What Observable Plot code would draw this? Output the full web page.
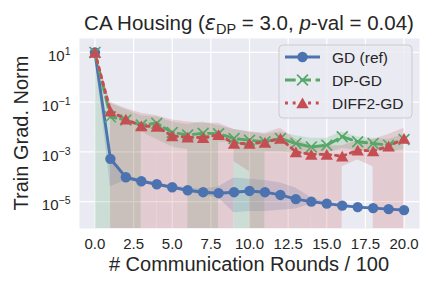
<!DOCTYPE html>
<html><head><meta charset="utf-8">
<script src="https://cdn.jsdelivr.net/npm/d3@7"></script>
<script src="https://cdn.jsdelivr.net/npm/@observablehq/plot@0.6"></script>
<style>body{margin:0;background:#fff}</style>
</head><body><div id="chart"></div>
<script>
// x positions (communication rounds / 100)
const rounds = [0,1,2,3,4,5,6,7,8,9,10,11,12,13,14,15,16,17,18,19,20];
const xTicks = [0,2.5,5,7.5,10,12.5,15,17.5,20];
const yTicks = [10, 0.1, 0.001, 0.00001];

// values read as log10 exponents; null = non-positive lower bound (clipped on log axis)
const gdMean  = [1.0,-3.28,-4.02,-4.18,-4.30,-4.42,-4.54,-4.62,-4.66,-4.62,-4.57,-4.62,-4.73,-4.90,-5.00,-5.08,-5.16,-5.22,-5.26,-5.30,-5.34];
const gdLow   = [0.95,-4.4,-4.15,-4.25,-4.35,-4.5,-4.6,-4.75,-4.85,-5.45,-5.4,-5.4,-5.35,-5.3,-5.1,-5.12,-5.2,-5.26,-5.3,-5.34,-5.38];
const gdHigh  = [1.05,-3.1,-3.95,-4.1,-4.25,-4.35,-4.45,-4.5,-4.4,-4.05,-4.1,-4.15,-4.25,-4.45,-4.85,-5.04,-5.12,-5.18,-5.22,-5.26,-5.3];

const dpMean  = [1.0,-1.59,-1.72,-1.92,-1.85,-2.22,-2.32,-2.25,-2.27,-2.46,-2.53,-2.59,-2.46,-2.66,-2.80,-2.73,-2.39,-2.59,-2.66,-2.73,-2.50];
const dpLow   = [0.9,null,null,-2.2,-2.5,-2.8,-2.9,null,-2.6,-2.65,null,-3.0,-3.0,-3.05,-3.1,-3.05,-2.85,-2.95,-2.95,-3.0,-2.9];
const dpHigh  = [1.1,-1.05,-1.3,-1.55,-1.6,-1.8,-1.9,-1.8,-1.95,-2.1,-2.2,-2.3,-2.2,-2.35,-2.45,-2.45,-2.2,-2.4,-2.45,-2.5,-2.3];

const dfMean  = [1.0,-1.36,-1.69,-1.96,-1.98,-2.36,-2.41,-2.43,-2.31,-2.66,-2.66,-2.62,-2.46,-3.0,-3.10,-3.10,-3.17,-2.93,-2.96,-2.77,-2.46];
const dfLow   = [0.9,-1.2,null,null,-2.6,null,null,null,null,-3.4,-3.8,null,null,null,-3.73,null,-3.6,-3.33,-3.6,null,null];
const dfHigh  = [1.1,-1.0,-1.25,-1.45,-1.55,-1.72,-1.8,-1.85,-1.85,-2.1,-2.2,-2.25,-2.05,-2.5,-2.75,-2.75,-2.75,-2.55,-2.5,-2.3,-2.05];

const names = ["GD (ref)","DP-GD","DIFF2-GD"];
const colors = ["#4C72B0","#55A868","#C44E52"];

const NONPOS = 1e-300;
const toVal = e => e === null ? NONPOS : Math.pow(10, e);
const build = (mean, lo, hi) => rounds.map((r,i) => ({round:r, y:toVal(mean[i]), y1:toVal(lo[i]), y2:toVal(hi[i])}));
const gd = build(gdMean, gdLow, gdHigh);
const dp = build(dpMean, dpLow, dpHigh);
const df = build(dfMean, dfLow, dfHigh);

const LW = 2.9;
const R = [5.2, 5.0, 4.6];
const DASH = [null, "10.7,4.6", "2.9,4.8"];
const band = (data, c) => Plot.areaY(data, {x:"round", y1:"y1", y2:"y2", fill:c, fillOpacity:0.2, clip:true});

const chart = Plot.plot({
  width: 432, height: 288,
  marginLeft: 79, marginRight: 13, marginTop: 38, marginBottom: 60,
  style: {fontFamily: "'Liberation Sans', Arial, sans-serif", fontSize: "15px", color: "#262626", background: "white", overflow: "visible"},
  x: {domain: [-1, 21]},
  y: {type: "log", domain: [Math.pow(10,-6.08), Math.pow(10,1.56)]},
  marks: [
    Plot.frame({fill: "#EAEAF2", stroke: null}),
    Plot.gridX(xTicks, {stroke: "white", strokeOpacity: 1, strokeWidth: 1.2}),
    Plot.gridY(yTicks, {stroke: "white", strokeOpacity: 1, strokeWidth: 1.2}),
    band(gd, colors[0]),
    band(dp, colors[1]),
    band(df, colors[2]),
    Plot.lineY(gd, {x:"round", y:"y", stroke: colors[0], strokeWidth: LW, clip: true}),
    Plot.dot(gd, {x:"round", y:"y", symbol:"circle", r:R[0], fill: colors[0], stroke: null}),
    Plot.lineY(dp, {x:"round", y:"y", stroke: colors[1], strokeWidth: LW, strokeDasharray: DASH[1], clip: true}),
    Plot.dot(dp, {x:"round", y:"y", symbol:"times", r:R[1], stroke: colors[1], strokeWidth: 1.7}),
    Plot.lineY(df, {x:"round", y:"y", stroke: colors[2], strokeWidth: LW, strokeDasharray: DASH[2], clip: true}),
    Plot.dot(df, {x:"round", y:"y", symbol:"triangle", r:R[2], fill: colors[2], stroke: null, dy: 1.7}),
    Plot.axisX({ticks: xTicks, tickSize: 0, tickPadding: 10, tickFormat: d3.format(".1f"), label: null}),
    Plot.axisY({ticks: yTicks, tickSize: 0, tickPadding: 9, dy: 4, label: null,
      tickFormat: d => "10^" + Math.round(Math.log10(d))})
  ]
});
document.getElementById("chart").appendChild(chart);

const svg = d3.select(chart);
// superscript exponents on y tick labels
svg.selectAll('g[aria-label="y-axis tick label"] text').each(function() {
  const t = d3.select(this);
  const parts = t.text().split("^");
  const exp = parts[1].replace("-", "\u2212");
  t.text(parts[0]);
  t.append("tspan").attr("dy", "-6").attr("font-size", "10.5px").text(exp);
});

const txt = "#262626";
// title
const title = svg.append("text").attr("x", 249).attr("y", 30).attr("text-anchor", "middle")
  .attr("font-size", "20.5px").attr("fill", txt);
title.append("tspan").text("CA Housing (");
title.append("tspan").attr("font-style", "italic").attr("font-family", "'DejaVu Sans'").text("\u03B5");
title.append("tspan").attr("font-size", "14.5px").attr("dy", 4).text("DP");
title.append("tspan").attr("dy", -4).text(" = 3.0, ");
title.append("tspan").attr("font-style", "italic").text("p");
title.append("tspan").text("-val = 0.04)");

// axis labels
svg.append("text").attr("x", 249).attr("y", 271).attr("text-anchor", "middle")
  .attr("font-size", "20px").attr("fill", txt).text("# Communication Rounds / 100");
svg.append("text").attr("transform", "translate(28,133) rotate(-90)").attr("text-anchor", "middle")
  .attr("font-size", "20px").attr("fill", txt).text("Train Grad. Norm");

// legend
const lg = svg.append("g");
lg.append("rect").attr("x", 279).attr("y", 45).attr("width", 133).attr("height", 73).attr("rx", 4)
  .attr("fill", "#EAEAF2").attr("fill-opacity", 0.8).attr("stroke", "#cccccc").attr("stroke-width", 1);
const rows = [57, 80, 103];
const symbols = [d3.symbolCircle, d3.symbolTimes, d3.symbolTriangle];
names.forEach((n, i) => {
  const y = rows[i];
  const l = lg.append("line").attr("x1", 285).attr("x2", 320).attr("y1", y).attr("y2", y)
    .attr("stroke", colors[i]).attr("stroke-width", LW);
  if (DASH[i]) l.attr("stroke-dasharray", DASH[i]);
  const p = lg.append("path").attr("d", d3.symbol(symbols[i], Math.PI * R[i] * R[i])())
    .attr("transform", `translate(302.5,${y + (i === 2 ? 1.7 : 0)})`);
  if (i === 1) p.attr("fill", "none").attr("stroke", colors[i]).attr("stroke-width", 1.7);
  else p.attr("fill", colors[i]);
  lg.append("text").attr("x", 332).attr("y", y + 5.5).attr("text-anchor", "start")
    .attr("font-size", "15.5px").attr("fill", txt).text(n);
});
</script>
</body></html>
